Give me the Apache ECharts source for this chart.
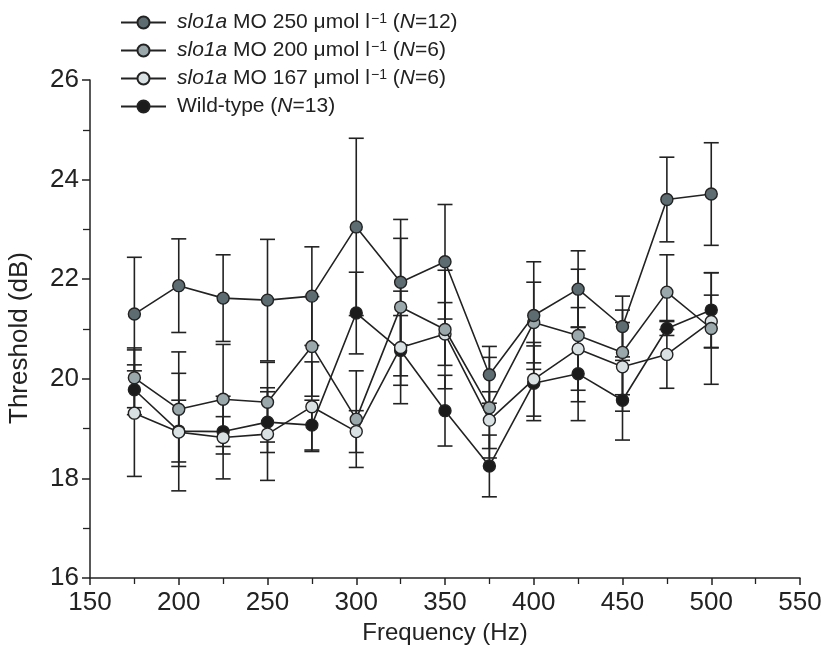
<!DOCTYPE html>
<html>
<head>
<meta charset="utf-8">
<script src="https://cdn.jsdelivr.net/npm/echarts@6/dist/echarts.min.js"></script>
<style>html,body{margin:0;padding:0;background:#fff}#c{width:826px;height:658px}</style>
</head>
<body>
<div id="c"></div>
<script>
const freqs = [175,200,225,250,275,300,325,350,375,400,425,450,475,500];

const mo250Mean = [21.30,21.87,21.62,21.58,21.66,23.05,21.94,22.35,20.08,21.27,21.80,21.05,23.60,23.71];
const mo250Err  = [1.14,0.94,0.87,1.22,0.99,1.78,1.26,1.15,0.57,1.08,0.77,0.61,0.85,1.03];

const mo200Mean = [20.02,19.39,19.59,19.53,20.65,19.19,21.44,20.99,19.42,21.13,20.87,20.53,21.74,21.01];
const mo200Err  = [0.60,1.15,1.10,0.80,1.00,0.97,1.38,1.19,1.01,0.81,1.33,0.85,0.75,1.12];

const mo167Mean = [19.31,18.93,18.82,18.89,19.44,18.94,20.63,20.90,19.17,19.99,20.60,20.24,20.49,21.15];
const mo167Err  = [1.27,1.18,0.83,0.93,0.90,0.42,1.13,0.63,0.57,0.74,0.83,0.89,0.68,0.53];

const wtMean = [19.78,18.95,18.94,19.13,19.07,21.32,20.57,19.36,18.25,19.91,20.10,19.57,21.01,21.38];
const wtErr  = [0.50,0.62,0.30,0.61,0.50,0.82,0.70,0.71,0.62,0.75,0.94,0.80,0.14,0.75];

const seriesNames = [
  'slo1a MO 250 μmol l−1 (N=12)',
  'slo1a MO 200 μmol l−1 (N=6)',
  'slo1a MO 167 μmol l−1 (N=6)',
  'Wild-type (N=13)'
];
const xTicks = [150,200,250,300,350,400,450,500,550];
const yTicks = [16,18,20,22,24,26];

const FONT = "'Liberation Sans', Arial, sans-serif";
const INK = '#222';

function pts(mean){ return freqs.map((f,i)=>[f, mean[i]]); }
function bars(mean, err){ return freqs.map((f,i)=>[f, mean[i]-err[i], mean[i]+err[i]]); }

function errSeries(mean, err, z){
  return {
    type: 'custom',
    name: 'err',
    z: z,
    silent: true,
    encode: {x: 0, y: [1, 2]},
    data: bars(mean, err),
    renderItem: function(params, api){
      const x = api.value(0), lo = api.value(1), hi = api.value(2);
      const a = api.coord([x, lo]), b = api.coord([x, hi]);
      const w = 7.5;
      const st = {stroke: INK, lineWidth: 1.6};
      return {type: 'group', children: [
        {type:'line', shape:{x1:a[0], y1:a[1], x2:b[0], y2:b[1]}, style: st},
        {type:'line', shape:{x1:a[0]-w, y1:a[1], x2:a[0]+w, y2:a[1]}, style: st},
        {type:'line', shape:{x1:b[0]-w, y1:b[1], x2:b[0]+w, y2:b[1]}, style: st}
      ]};
    }
  };
}

function lineSeries(name, mean, fill, z){
  return {
    type: 'line',
    name: name,
    z: z,
    data: pts(mean),
    symbol: 'circle',
    symbolSize: 12,
    itemStyle: {color: fill, borderColor: INK, borderWidth: 1.4},
    lineStyle: {color: INK, width: 1.6},
    emphasis: {disabled: true}
  };
}

const chart = echarts.init(document.getElementById('c'), null, {renderer: 'canvas'});
chart.setOption({
  animation: false,
  backgroundColor: '#fff',
  textStyle: {fontFamily: FONT},
  grid: {left: 90, right: 26, top: 80, bottom: 80, outerBoundsMode: 'none', containLabel: false},
  legend: {
    data: seriesNames,
    orient: 'vertical',
    left: 115,
    top: 7,
    itemWidth: 45,
    itemHeight: 15,
    itemGap: 7,
    textStyle: {
      fontFamily: FONT, fontSize: 21, color: INK,
      rich: {
        i: {fontFamily: FONT, fontSize: 21, fontStyle: 'italic', color: INK},
        sup: {fontFamily: FONT, fontSize: 14, color: INK, verticalAlign: 'top', padding: [0, 0, 0, 1]},
        s: {width: 6}
      }
    },
    formatter: function(name){
      return '{s|}' + name.replace('slo1a', '{i|slo1a}')
        .replace('l−1', 'l{sup|−1}')
        .replace('(N=', '({i|N}=');
    }
  },
  xAxis: {
    type: 'value',
    min: 150, max: 550, interval: 50,
    name: 'Frequency (Hz)',
    nameLocation: 'middle',
    nameGap: 39,
    nameTextStyle: {fontFamily: FONT, fontSize: 24, color: INK},
    axisLine: {lineStyle: {color: INK, width: 1.5}},
    axisTick: {show: true, length: 7, lineStyle: {color: INK, width: 1.5}},
    minorTick: {show: true, splitNumber: 2, length: 6, lineStyle: {color: INK, width: 1.3}},
    axisLabel: {fontFamily: FONT, fontSize: 26, color: INK, margin: 12,
      customValues: xTicks},
    splitLine: {show: false}
  },
  yAxis: {
    type: 'value',
    min: 16, max: 26, interval: 2,
    name: 'Threshold (dB)',
    nameLocation: 'middle',
    nameGap: 57,
    nameTextStyle: {fontFamily: FONT, fontSize: 26, color: INK, padding: [0, 18, 0, 0]},
    axisLine: {show: true, lineStyle: {color: INK, width: 1.5}},
    axisTick: {show: true, length: 8, lineStyle: {color: INK, width: 1.5}},
    minorTick: {show: true, splitNumber: 2, length: 7, lineStyle: {color: INK, width: 1.3}},
    axisLabel: {fontFamily: FONT, fontSize: 26, color: INK, margin: 11,
      customValues: yTicks},
    splitLine: {show: false}
  },
  series: [
    errSeries(wtMean, wtErr, 1),
    errSeries(mo167Mean, mo167Err, 1),
    errSeries(mo200Mean, mo200Err, 1),
    errSeries(mo250Mean, mo250Err, 1),
    lineSeries(seriesNames[3], wtMean, '#1b1b1b', 3),
    lineSeries(seriesNames[2], mo167Mean, '#d9e1e3', 4),
    lineSeries(seriesNames[1], mo200Mean, '#9aa8ac', 5),
    lineSeries(seriesNames[0], mo250Mean, '#5d6c71', 6)
  ]
});
</script>
</body>
</html>
